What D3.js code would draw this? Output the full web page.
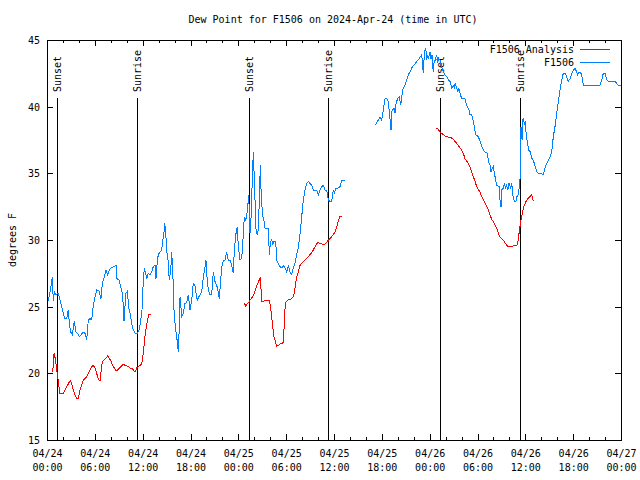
<!DOCTYPE html>
<html>
<head>
<meta charset="utf-8">
<script src="https://cdn.jsdelivr.net/npm/d3@7"></script>
<style>
  html, body { margin: 0; padding: 0; background: #fff; }
  svg { display: block; }
  text { font-family: "DejaVu Sans Mono", "Liberation Mono", monospace; font-size: 10px; fill: #000; }
</style>
</head>
<body>
<svg id="chart" width="640" height="480"></svg>
<script>
// ---- Data (hours since 2024-04-24 00:00 UTC) ----
const titleText = "Dew Point for F1506 on 2024-Apr-24 (time in UTC)";
const yLabel = "degrees F";
const seriesNames = ["F1506 Analysis", "F1506"];
const yTicks = [15, 20, 25, 30, 35, 40, 45];

const obsHours = [0.16,0.59,0.66,0.79,0.92,1.09,1.42,1.63,1.84,2.04,2.26,2.47,2.67,2.80,2.97,3.17,3.42,3.64,3.85,4.05,4.27,4.55,4.77,4.98,5.18,5.39,5.61,5.73,5.93,6.23,6.52,6.77,6.94,7.19,7.40,7.61,7.81,8.03,8.32,8.66,8.78,9.03,9.19,9.37,9.50,9.66,9.78,9.91,10.12,10.20,10.41,10.62,10.83,11.04,11.33,11.54,11.75,11.92,12.08,12.21,12.33,12.51,12.71,12.92,13.13,13.33,13.55,13.67,13.84,13.96,14.17,14.36,14.51,14.68,14.76,14.89,15.01,15.18,15.34,15.52,15.64,15.77,15.93,16.09,16.27,16.47,16.60,16.69,16.90,17.10,17.31,17.52,17.72,17.94,18.15,18.35,18.56,18.73,18.85,19.10,19.41,19.61,19.82,19.94,20.03,20.23,20.45,20.66,20.86,21.07,21.29,21.49,21.61,21.79,21.91,22.12,22.33,22.54,22.74,22.96,23.17,23.37,23.46,23.58,23.71,23.87,24.00,24.21,24.42,24.62,24.75,24.93,25.05,25.18,25.30,25.38,25.46,25.55,25.68,25.80,25.88,25.97,26.09,26.22,26.38,26.51,26.63,26.76,26.84,27.01,27.22,27.35,27.56,27.76,27.89,27.97,28.06,28.19,28.31,28.47,28.69,28.81,29.01,29.23,29.44,29.64,29.85,30.07,30.27,30.48,30.69,30.90,31.11,31.32,31.52,31.65,31.74,31.95,32.15,32.36,32.58,32.78,32.99,33.20,33.40,33.62,33.83,34.03,34.24,34.46,34.66,34.87,35.09,35.29,35.50,35.71,35.91,36.04,36.25,36.54,36.75,36.97,37.38,
  39.0,
  41.14,41.56,41.77,41.98,42.19,42.40,42.61,42.81,42.94,43.15,43.24,43.36,43.53,43.65,43.78,43.99,44.19,44.37,44.57,44.69,44.91,45.12,45.32,45.53,45.75,45.95,46.16,46.37,46.57,46.79,47.00,47.13,47.20,47.33,47.45,47.54,47.63,47.75,47.83,47.95,48.04,48.17,48.29,48.38,48.46,48.58,48.71,48.88,49.01,49.14,49.30,49.42,49.55,49.71,49.92,50.14,50.34,50.55,50.76,50.96,51.09,51.21,51.39,51.51,51.64,51.81,52.02,52.43,52.56,52.72,52.94,53.06,53.27,53.48,53.60,53.78,54.11,54.32,54.53,54.73,54.94,55.16,55.28,55.36,55.57,55.69,55.86,55.98,56.20,56.41,56.70,56.82,56.95,57.03,57.24,57.36,57.54,57.66,57.79,57.95,58.17,58.29,58.49,58.66,58.83,58.95,59.08,59.24,59.33,59.37,59.41,59.46,59.59,59.66,59.79,59.87,60.00,60.12,60.29,60.41,60.63,60.84,61.04,61.25,61.47,61.67,61.84,62.09,62.29,62.47,62.69,62.89,63.10,63.31,63.51,63.72,63.94,64.14,64.35,64.56,64.76,64.98,65.19,65.39,65.61,65.82,66.02,66.23,66.44,66.57,66.70,66.86,67.07,67.27,69.37,69.58,69.78,69.99,70.21,70.41,71.25,71.46,71.66,72.0];
const obsValues = [25.4,26.8,27.25,25.4,26.1,25.9,26.0,25.5,25.0,24.5,24.1,24.1,24.75,23.75,23.1,22.9,23.9,23.1,23.0,22.75,22.9,23.1,23.0,22.5,24.0,24.1,24.0,24.75,25.5,26.25,26.2,25.6,26.75,27.25,27.75,27.4,27.75,27.9,28.0,28.1,27.1,27.0,26.6,26.2,25.75,23.9,25.0,26.0,26.2,25.0,24.5,23.75,23.25,23.0,23.0,23.25,23.9,24.8,27.0,27.9,27.6,27.1,27.5,27.4,27.6,28.0,28.1,27.1,28.4,28.9,29.1,29.2,29.9,30.6,31.25,30.6,29.25,28.5,27.0,27.75,29.1,27.75,24.75,23.5,22.75,21.6,23.5,25.75,24.25,24.5,25.25,25.3,25.9,24.75,25.5,26.75,26.6,25.9,25.5,25.8,26.1,27.25,28.0,28.5,27.5,26.25,25.9,25.9,27.6,26.9,26.6,26.1,25.6,27.0,27.9,28.5,28.5,29.1,28.5,28.5,28.1,27.5,28.75,29.75,30.5,31.0,29.5,28.5,28.6,30.4,31.75,31.5,31.8,32.5,33.4,32.0,30.5,31.0,33.25,35.25,36.6,35.1,33.0,30.75,30.4,30.75,33.0,35.6,33.9,32.0,31.4,30.9,30.9,30.9,28.9,29.5,29.8,30.1,29.6,29.9,29.9,28.5,28.25,28.0,27.9,28.1,27.9,27.6,28.1,27.6,27.4,27.9,28.25,28.9,29.4,30.0,30.5,31.75,33.0,33.75,34.25,34.4,34.25,34.1,33.75,33.75,33.75,33.4,33.75,34.0,34.1,33.75,33.75,33.0,32.9,32.9,33.75,33.5,33.9,33.9,34.0,34.5,34.5,
  null,
  38.6,39.0,39.2,39.0,39.75,40.6,40.6,40.4,39.6,38.25,39.6,39.75,39.9,39.5,40.25,40.6,40.75,40.1,41.1,41.4,41.6,42.0,42.4,42.6,42.9,43.1,43.2,43.4,43.5,43.7,43.9,43.0,42.5,43.9,44.4,44.15,43.5,43.9,43.6,43.9,44.1,43.6,43.9,43.0,42.6,43.5,43.5,43.9,43.4,43.6,43.5,43.25,42.9,42.6,42.4,42.25,42.0,41.9,41.4,41.6,41.4,41.75,41.4,41.1,41.4,41.0,40.6,40.6,40.25,40.0,39.75,39.4,39.4,38.9,38.5,37.9,37.75,37.4,37.0,36.75,36.6,36.6,36.4,35.9,35.6,35.1,35.4,35.5,34.75,34.1,34.0,33.0,32.5,33.75,33.9,34.25,33.9,34.1,33.75,34.25,33.9,34.25,33.1,32.9,32.9,33.25,33.4,33.9,34.5,35.75,37.0,38.5,37.5,39.0,39.1,38.6,38.9,37.75,37.25,36.75,36.6,36.1,35.9,35.5,35.1,35.0,35.0,34.95,34.95,35.4,35.75,36.0,36.25,36.6,37.75,38.5,39.5,40.4,41.25,42.0,42.5,42.5,42.25,41.9,42.1,42.5,42.7,42.9,42.6,42.4,42.55,42.6,42.4,41.6,41.6,42.0,42.5,42.5,42.0,41.9,41.9,41.75,41.6,41.6];

const anaHours = [0.66,0.79,0.88,1.00,1.09,1.22,1.34,1.47,1.63,1.84,2.04,2.26,2.47,2.67,2.89,3.10,3.30,3.51,3.73,3.93,4.14,4.35,4.55,4.77,4.98,5.18,5.39,5.61,5.81,6.02,6.23,6.44,6.65,6.77,6.94,7.19,7.40,7.61,7.81,8.03,8.24,8.44,8.66,8.87,9.07,9.37,9.57,9.78,10.00,10.20,10.41,10.62,10.83,11.04,11.25,11.45,11.67,11.88,12.00,12.08,12.21,12.33,12.51,12.63,12.79,13.01,
  18.0,
  24.75,24.93,25.18,25.38,25.59,25.80,26.00,26.22,26.43,26.63,26.76,26.84,26.93,27.13,27.35,27.56,27.76,27.89,28.06,28.19,28.31,28.47,28.64,28.81,29.01,29.23,29.44,29.64,29.77,29.89,30.07,30.27,30.48,30.69,30.90,31.03,31.20,31.32,31.52,31.74,31.95,32.15,32.36,32.58,32.78,32.99,33.20,33.40,33.62,33.83,34.03,34.24,34.46,34.66,34.87,35.09,35.29,35.50,35.71,35.91,36.13,36.34,36.54,36.75,36.97,
  42.0,
  48.80,49.01,49.30,49.51,49.71,49.92,50.14,50.55,50.76,50.96,51.18,51.39,51.59,51.81,52.02,52.22,52.43,52.65,52.85,53.06,53.27,53.48,53.69,53.90,54.10,54.32,54.53,54.73,54.94,55.16,55.36,55.57,55.78,55.98,56.20,56.41,56.61,56.82,57.03,57.24,57.45,57.66,57.86,58.29,58.49,58.71,58.92,59.04,59.21,59.33,59.46,59.62,59.75,59.87,60.09,60.30,60.59,60.80,61.00];
const anaValues = [20.1,20.5,21.5,21.2,20.9,20.25,19.75,19.1,18.5,18.45,18.5,18.75,19.0,19.2,19.45,19.25,18.75,18.4,18.1,18.1,18.75,19.1,19.5,19.6,19.75,20.0,20.25,20.5,20.6,20.4,20.0,19.6,19.4,20.1,20.9,21.0,21.15,21.3,21.15,20.9,20.6,20.4,20.2,20.25,20.4,20.55,20.7,20.6,20.55,20.5,20.4,20.4,20.25,20.1,20.4,20.5,20.6,20.7,21.1,21.6,22.25,23.0,23.6,24.1,24.4,24.45,
  null,
  25.25,25.05,25.25,25.4,25.6,25.75,26.0,26.4,26.75,27.0,27.25,26.4,25.4,25.4,25.45,25.5,25.5,25.45,24.9,24.25,23.5,22.75,22.4,22.05,22.1,22.2,22.25,22.3,23.75,25.3,25.4,25.5,25.55,25.6,25.75,26.1,26.75,27.25,27.6,28.1,28.25,28.4,28.5,28.6,28.75,28.9,29.05,29.25,29.5,29.75,29.8,29.75,29.7,29.7,29.7,29.8,30.0,30.1,30.25,30.4,30.6,31.0,31.4,31.75,31.8,
  null,
  38.4,38.35,38.1,38.0,37.9,37.8,37.75,37.7,37.65,37.55,37.4,37.25,37.1,36.9,36.75,36.5,36.1,35.9,35.75,35.5,35.1,34.75,34.4,34.0,33.8,33.6,33.25,33.0,32.75,32.5,32.25,31.9,31.55,31.4,31.1,30.9,30.5,30.25,30.1,30.0,29.8,29.6,29.5,29.5,29.55,29.6,29.6,29.75,30.5,31.0,31.5,32.0,32.4,32.6,32.9,33.1,33.25,33.4,32.9];

const sunLabels = ["Sunset", "Sunrise", "Sunset", "Sunrise", "Sunset", "Sunrise"];
const sunHours = [1.22, 11.33, 25.37, 35.29, 49.33, 59.33];

// ---- Chart ----
const t0 = Date.UTC(2024, 3, 24);
const toDate = h => new Date(t0 + h * 3600e3);
const svg = d3.select("#chart");
const L = 47, R = 621, T = 40, B = 440;

const x = d3.scaleUtc().domain([toDate(0), toDate(72)]).range([L, R]);
const y = d3.scaleLinear().domain([15, 45]).range([B, T]);

const majorTicks = d3.utcHour.every(6).range(toDate(0), toDate(72.01));
const minorTicks = d3.utcHour.every(2).range(toDate(0), toDate(72.01)).filter(d => d.getUTCHours() % 6 !== 0);

// minor ticks bottom/top
svg.append("g").attr("transform", `translate(0,${B})`)
  .call(d3.axisBottom(x).tickValues(minorTicks).tickSize(-3).tickFormat(""))
  .call(g => g.select(".domain").remove());
svg.append("g").attr("transform", `translate(0,${T})`)
  .call(d3.axisTop(x).tickValues(minorTicks).tickSize(-3).tickFormat(""))
  .call(g => g.select(".domain").remove());

// major bottom with two-line labels
const xg = svg.append("g").attr("transform", `translate(0,${B})`)
  .call(d3.axisBottom(x).tickValues(majorTicks).tickSize(-6).tickFormat(d3.utcFormat("%m/%d")))
  .call(g => g.select(".domain").remove());
xg.selectAll(".tick text").each(function(d) {
  const t = d3.select(this);
  t.text(null).attr("y", null).attr("dy", null).attr("font-size", null).attr("font-family", null);
  t.append("tspan").attr("x", 0).attr("y", 17).text(d3.utcFormat("%m/%d")(d));
  t.append("tspan").attr("x", 0).attr("y", 31).text(d3.utcFormat("%H:%M")(d));
});
svg.append("g").attr("transform", `translate(0,${T})`)
  .call(d3.axisTop(x).tickValues(majorTicks).tickSize(-6).tickFormat(""))
  .call(g => g.select(".domain").remove());

// y axes
const yg = svg.append("g").attr("transform", `translate(${L},0)`)
  .call(d3.axisLeft(y).tickValues(yTicks).tickSize(-6).tickPadding(7))
  .call(g => g.select(".domain").remove());
yg.selectAll(".tick text").attr("font-size", null).attr("font-family", null).attr("dy", "0.35em");
svg.append("g").attr("transform", `translate(${R},0)`)
  .call(d3.axisRight(y).tickValues(yTicks).tickSize(-6).tickFormat(""))
  .call(g => g.select(".domain").remove());

svg.selectAll(".tick line").attr("stroke", "#000").attr("shape-rendering", "crispEdges");

// border
svg.append("rect").attr("x", L).attr("y", T).attr("width", R - L).attr("height", B - T)
  .attr("fill", "none").attr("stroke", "#000").attr("shape-rendering", "crispEdges");

// sun lines
const sun = svg.append("g");
sunHours.forEach((h, i) => {
  const sx = Math.round(x(toDate(h))) + 0.5;
  sun.append("line").attr("x1", sx).attr("x2", sx).attr("y1", 98).attr("y2", B)
    .attr("stroke", "#000").attr("stroke-width", 1).attr("shape-rendering", "crispEdges");
  sun.append("text").attr("transform", `translate(${sx},92) rotate(-90)`)
    .attr("dy", "0.35em").attr("text-anchor", "start").text(sunLabels[i]);
});

// series
const line = d3.line().defined(d => d.v != null).x(d => x(d.t)).y(d => y(d.v));
const obs = obsHours.map((h, i) => ({ t: toDate(h), v: obsValues[i] }));
const ana = anaHours.map((h, i) => ({ t: toDate(h), v: anaValues[i] }));

svg.append("path").datum(ana).attr("d", line)
  .attr("fill", "none").attr("stroke", "#ff0000").attr("stroke-width", 1).attr("shape-rendering", "crispEdges");
svg.append("path").datum(obs).attr("d", line)
  .attr("fill", "none").attr("stroke", "#0080ff").attr("stroke-width", 1).attr("shape-rendering", "crispEdges");

// legend
const legColors = ["#ff0000", "#0080ff"];
seriesNames.forEach((n, i) => {
  const ly = 49 + i * 13;
  svg.append("text").attr("x", 574).attr("y", ly).attr("dy", "0.35em").attr("text-anchor", "end").text(n);
  svg.append("line").attr("x1", 580).attr("x2", 610).attr("y1", ly + 0.5).attr("y2", ly + 0.5)
    .attr("stroke", legColors[i]).attr("shape-rendering", "crispEdges");
});

// title and y label
svg.append("text").attr("x", 333).attr("y", 23).attr("text-anchor", "middle").text(titleText);
svg.append("text").attr("transform", "translate(12,240) rotate(-90)")
  .attr("text-anchor", "middle").attr("dy", "0.35em").text(yLabel);
</script>
</body>
</html>
